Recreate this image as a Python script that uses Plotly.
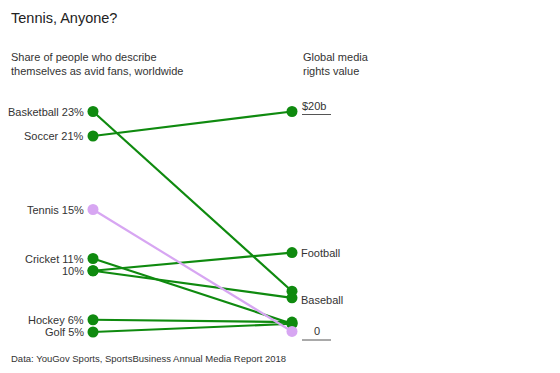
import plotly.graph_objects as go

# ---- data ----
sports = ["Basketball", "Soccer", "Cricket", "Football", "Baseball", "Hockey", "Golf", "Tennis"]
fan_share = [23, 21, 11, 10, 10, 6, 5, 15]            # % avid fans worldwide
media_value = [3.7, 20, 0.75, 7.2, 3.1, 0.9, 0.75, 0.05]  # global media rights, $ billions
left_labels = ["Basketball 23%", "Soccer 21%", "Cricket 11%", "10%", "", "Hockey 6%", "Golf 5%", "Tennis 15%"]
right_labels = ["", "", "", "Football", "Baseball", "", "", ""]
left_domain = [5, 23]
right_domain = [0, 20]
right_ticks = ["$20b", "0"]
right_tick_values = [20, 0]

GREEN = "#0f8a0f"
PINK = "#d7a6f2"
TXT = "#333333"
FONT = "Liberation Sans, Arial, sans-serif"

# page has an 8px body margin; work in window pixels and shift
OFF = 8


def norm(v, dom):
    return (v - dom[0]) / (dom[1] - dom[0])


fig = go.Figure()
for name, a, b in zip(sports, fan_share, media_value):
    col = PINK if name == "Tennis" else GREEN
    fig.add_trace(go.Scatter(
        x=[0, 1], y=[norm(a, left_domain), norm(b, right_domain)],
        mode="lines+markers",
        line=dict(color=col, width=2.2),
        marker=dict(color=col, size=11),
        cliponaxis=False, hoverinfo="skip", showlegend=False,
    ))

annotations = []
for lab, a in zip(left_labels, fan_share):
    if lab:
        annotations.append(dict(x=0, y=norm(a, left_domain), xref="x", yref="y", text=lab,
                                showarrow=False, xanchor="right", yanchor="middle", xshift=-7,
                                font=dict(size=11, color=TXT, family=FONT)))
for lab, b in zip(right_labels, media_value):
    if lab:
        yshift = -2 if lab == "Baseball" else 0
        annotations.append(dict(x=1, y=norm(b, right_domain), xref="x", yref="y", text=lab,
                                showarrow=False, xanchor="left", yanchor="middle", xshift=7, yshift=yshift,
                                font=dict(size=11, color=TXT, family=FONT)))

shapes = []
for t, v in zip(right_ticks, right_tick_values):
    yv = norm(v, right_domain)
    if v == 0:
        annotations.append(dict(x=1, y=yv, xref="x", yref="y", text=t, showarrow=False,
                                xanchor="center", yanchor="middle", xshift=24.5, yshift=1,
                                font=dict(size=11, color=TXT, family=FONT)))
    else:
        annotations.append(dict(x=1, y=yv, xref="x", yref="y", text=t, showarrow=False,
                                xanchor="left", yanchor="middle", xshift=8, yshift=6,
                                font=dict(size=11, color=TXT, family=FONT)))
    shapes.append(dict(type="line", xref="x", yref="y", xsizemode="pixel", ysizemode="pixel",
                       xanchor=1, yanchor=yv, x0=10, x1=39,
                       y0=-3 if v else -8, y1=-3 if v else -8,
                       line=dict(color="#555555", width=1)))

W, H = 560 - 2 * OFF, 373 - 2 * OFF
MT, MB = 92, 22
PH = H - MT - MB


def py(p):
    return 1 - (p - OFF - MT) / PH


def px(p):
    return (p - OFF) / W


annotations += [
    dict(x=px(9), y=py(18), xref="paper", yref="paper", text="Tennis, Anyone?", showarrow=False,
         xanchor="left", yanchor="middle", font=dict(size=14.5, color="#222222", family=FONT)),
    dict(x=px(9), y=py(64), xref="paper", yref="paper",
         text="Share of people who describe<br>themselves as avid fans, worldwide", showarrow=False,
         xanchor="left", yanchor="middle", align="left", font=dict(size=11, color=TXT, family=FONT)),
    dict(x=px(301), y=py(64), xref="paper", yref="paper",
         text="Global media<br>rights value", showarrow=False,
         xanchor="left", yanchor="middle", align="left", font=dict(size=11, color=TXT, family=FONT)),
    dict(x=px(9), y=py(358.5), xref="paper", yref="paper",
         text="Data: YouGov Sports, SportsBusiness Annual Media Report 2018", showarrow=False,
         xanchor="left", yanchor="middle", font=dict(size=9.5, color=TXT, family=FONT)),
]

# axis ranges in window pixels: normalized 1 -> 111.5, 0 -> 332; x 0 -> 93, 1 -> 292
top_px, bot_px = 111.5 - OFF, 332 - OFF
span = bot_px - top_px
ymin = -(MT + PH - bot_px) / span
ymax = ymin + PH / span
xpx0, xspan = 93 - OFF, 199
xmin = -xpx0 / xspan
xmax = (W - xpx0) / xspan

fig.update_layout(
    width=W, height=H,
    margin=dict(l=0, r=0, t=MT, b=MB),
    paper_bgcolor="white", plot_bgcolor="white",
    xaxis=dict(range=[xmin, xmax], visible=False, fixedrange=True),
    yaxis=dict(range=[ymin, ymax], visible=False, fixedrange=True),
    annotations=annotations, shapes=shapes,
    font=dict(family=FONT),
)

fig.write_html("out.html", config={"displayModeBar": False})
